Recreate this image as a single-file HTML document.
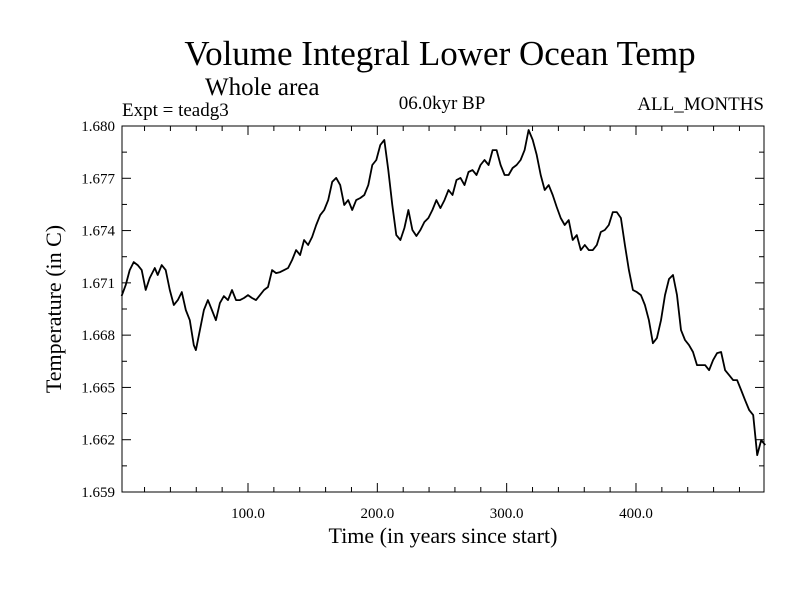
<!DOCTYPE html>
<html><head><meta charset="utf-8"><style>
body{margin:0;background:#fff;}
svg text{font-family:"Liberation Serif",serif;fill:#000;}
</style></head><body>
<svg id="chart" width="800" height="600">
<text x="440" y="65" text-anchor="middle" font-size="35">Volume Integral Lower Ocean Temp</text>
<text x="205" y="95" font-size="25">Whole area</text>
<text x="122" y="116" font-size="19">Expt = teadg3</text>
<text x="442" y="109" text-anchor="middle" font-size="19">06.0kyr BP</text>
<text x="764" y="110" text-anchor="end" font-size="19">ALL_MONTHS</text>
<rect x="122" y="126" width="642" height="366" fill="none" stroke="#000" stroke-width="1"/>
<g id="ticks"></g>
<text x="443" y="543" text-anchor="middle" font-size="22">Time (in years since start)</text>
<text transform="translate(61,309) rotate(-90)" text-anchor="middle" font-size="22">Temperature (in C)</text>
</svg>
<script>
const years=[2.3,5.4,8.5,11.6,14.7,17.8,20.9,24.0,27.9,30.2,33.3,36.4,39.5,42.6,45.7,48.8,51.9,55.0,58.1,59.7,
62.8,65.9,69.0,72.1,75.2,78.3,81.4,84.5,87.6,90.7,
93.8,96.9,100.0,103.1,106.2,109.3,112.4,115.5,118.6,121.7,
124.8,127.9,131.0,134.1,137.2,140.3,143.4,146.5,149.6,152.7,
155.8,158.9,162.0,165.1,168.2,171.3,174.4,177.5,180.6,183.7,
186.8,189.9,193.0,196.1,199.2,202.3,205.4,208.5,211.6,214.7,
217.8,220.9,224.0,227.1,230.2,233.3,236.4,239.5,242.6,245.7,
248.8,251.9,255.0,258.1,261.2,264.3,267.4,270.5,273.6,276.7,
279.8,282.9,286.0,289.1,292.2,295.3,298.4,301.5,304.6,307.7,
310.8,313.9,317.0,320.1,323.2,326.3,329.4,332.5,335.6,338.7,
341.8,344.9,348.0,351.1,354.2,357.3,360.4,363.5,366.6,369.7,
372.8,375.9,379.0,382.1,385.2,388.3,391.4,394.5,397.6,400.7,
403.8,406.9,410.0,413.1,416.2,419.3,422.4,425.5,428.6,431.7,
434.8,437.9,441.0,444.1,447.2,450.3,453.4,456.5,459.6,462.7,
465.8,468.9,472.0,475.1,478.2,481.3,484.4,487.5,490.6,493.7,
496.8,499.9];
const temps=[1.67024,1.67087,1.67173,1.67219,1.67202,1.67173,1.67059,1.67128,1.67185,1.67145,
1.67202,1.67173,1.67059,1.66973,1.67001,1.67047,1.66944,1.66886,1.66743,1.66714,
1.66829,1.66944,1.67001,1.66944,1.66886,1.66984,1.67024,1.67001,1.67059,1.67001,
1.67001,1.67013,1.67030,1.67013,1.67001,1.67030,1.67059,1.67076,1.67173,1.67156,
1.67162,1.67173,1.67185,1.67231,1.67288,1.67260,1.67346,1.67317,1.67363,1.67432,
1.67489,1.67518,1.67575,1.67679,1.67702,1.67661,1.67547,1.67575,1.67518,1.67575,
1.67587,1.67604,1.67661,1.67776,1.67805,1.67891,1.67920,1.67747,1.67547,1.67374,
1.67346,1.67415,1.67518,1.67403,1.67369,1.67403,1.67449,1.67472,1.67518,1.67575,
1.67529,1.67575,1.67633,1.67604,1.67690,1.67702,1.67661,1.67736,1.67747,1.67719,
1.67776,1.67805,1.67776,1.67862,1.67862,1.67776,1.67719,1.67719,1.67759,1.67776,
1.67805,1.67862,1.67977,1.67920,1.67834,1.67719,1.67633,1.67661,1.67604,1.67535,
1.67472,1.67432,1.67460,1.67346,1.67374,1.67288,1.67317,1.67288,1.67288,1.67317,
1.67392,1.67403,1.67432,1.67506,1.67506,1.67472,1.67317,1.67173,1.67059,1.67047,
1.67030,1.66973,1.66886,1.66754,1.66783,1.66886,1.67030,1.67122,1.67145,1.67030,
1.66829,1.66772,1.66743,1.66703,1.66628,1.66628,1.66628,1.66599,1.66657,1.66697,
1.66703,1.66599,1.66571,1.66542,1.66542,1.66485,1.66427,1.66370,1.66341,1.66112,
1.66198,1.66169];
const yTickLabels=["1.659","1.662","1.665","1.668","1.671","1.674","1.677","1.680"];
const xTickLabels=["100.0","200.0","300.0","400.0"];
const xTickValues=[100,200,300,400];

const NS="http://www.w3.org/2000/svg";
const svg=document.getElementById('chart');
const g=document.getElementById('ticks');
const L=122,R=764,T=126,B=492;
function xs(v){return 118.67+v*1.2933;}
function ys(v){return B-(v-1.659)*(B-T)/0.021;}
function mk(tag,attrs,parent){const e=document.createElementNS(NS,tag);for(const k in attrs)e.setAttribute(k,attrs[k]);(parent||g).appendChild(e);return e;}

for(let i=0;i<yTickLabels.length;i++){
  const v=parseFloat(yTickLabels[i]);const y=ys(v);
  const t=mk('text',{x:115,y:y+5,'text-anchor':'end','font-size':15});
  t.textContent=yTickLabels[i];
  
  
  if(i>0&&i<yTickLabels.length-1){
    mk('line',{x1:L,x2:L+9,y1:y,y2:y,stroke:'#000'});
    mk('line',{x1:R,x2:R-9,y1:y,y2:y,stroke:'#000'});
  }
  if(i<yTickLabels.length-1){
    const ym=ys(v+0.0015);
    mk('line',{x1:L,x2:L+5,y1:ym,y2:ym,stroke:'#000'});
    mk('line',{x1:R,x2:R-5,y1:ym,y2:ym,stroke:'#000'});
  }
}
for(let yr=20;yr<500;yr+=20){
  const x=xs(yr);const major=yr%100===0;const len=major?9:5;
  mk('line',{x1:x,x2:x,y1:B,y2:B-len,stroke:'#000'});
  mk('line',{x1:x,x2:x,y1:T,y2:T+len,stroke:'#000'});
}
for(let i=0;i<xTickLabels.length;i++){
  const t=mk('text',{x:xs(xTickValues[i]),y:518,'text-anchor':'middle','font-size':15});
  t.textContent=xTickLabels[i];
  
  
}
const n=Math.min(years.length,temps.length);
let d='';
for(let i=0;i<n;i++){d+=(i?'L':'M')+xs(years[i]).toFixed(1)+','+ys(temps[i]).toFixed(1);}
const p=mk('path',{d:d,fill:'none',stroke:'#000','stroke-width':1.8,'stroke-linejoin':'round'},svg);


</script>
</body></html>
